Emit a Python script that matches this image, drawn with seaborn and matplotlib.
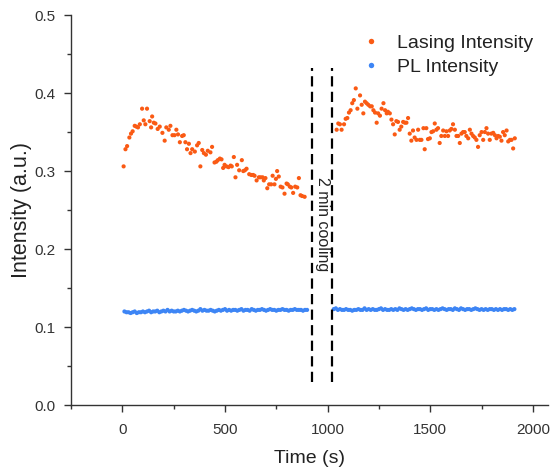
import matplotlib
matplotlib.use("Agg")
import matplotlib.pyplot as plt
import seaborn as sns
import pandas as pd

# ---- data ----
lasing_time_1 = [6, 15, 23, 34, 42, 50, 60, 68, 76, 85, 96, 104, 112, 120, 133, 140, 145, 153, 161, 172,
                 182, 195, 206, 214, 226, 234, 244, 254, 263, 271, 280, 291, 299, 307, 315, 324, 332, 340,
                 353, 364, 372, 380, 389, 397, 407, 416, 429, 437, 449, 458, 465, 475, 483, 491, 498, 507,
                 517, 527, 533, 543, 551, 559, 569, 582, 589, 597, 605, 618, 628, 637, 644, 654, 665, 673,
                 683, 689, 697, 706, 715, 725, 732, 741, 748, 754, 762, 771, 780, 790, 800, 806, 816, 823,
                 832, 842, 852, 860, 868, 876, 888]
lasing_int_1 = [0.306, 0.328, 0.332, 0.343, 0.348, 0.351, 0.358, 0.357, 0.356, 0.360, 0.380, 0.365, 0.360,
                0.380, 0.364, 0.356, 0.370, 0.362, 0.361, 0.354, 0.357, 0.349, 0.339, 0.356, 0.353, 0.358,
                0.346, 0.346, 0.353, 0.347, 0.337, 0.345, 0.346, 0.337, 0.328, 0.335, 0.323, 0.328, 0.325,
                0.333, 0.336, 0.306, 0.327, 0.323, 0.321, 0.326, 0.324, 0.331, 0.311, 0.312, 0.314, 0.316,
                0.315, 0.304, 0.308, 0.306, 0.305, 0.307, 0.306, 0.318, 0.292, 0.308, 0.301, 0.314, 0.300,
                0.301, 0.303, 0.296, 0.295, 0.295, 0.294, 0.288, 0.292, 0.292, 0.292, 0.288, 0.291, 0.278,
                0.283, 0.283, 0.294, 0.283, 0.290, 0.300, 0.293, 0.280, 0.279, 0.271, 0.284, 0.283, 0.280,
                0.279, 0.272, 0.280, 0.279, 0.291, 0.269, 0.268, 0.267]

lasing_time_2 = [1044, 1052, 1060, 1068, 1080, 1088, 1096, 1104, 1112, 1120, 1128, 1137, 1145, 1158, 1166,
                 1174, 1182, 1190, 1198, 1207, 1215, 1223, 1231, 1239, 1246, 1255, 1263, 1272, 1280, 1288,
                 1294, 1303, 1311, 1319, 1327, 1335, 1343, 1351, 1359, 1368, 1376, 1384, 1392, 1400, 1408,
                 1416, 1424, 1433, 1441, 1449, 1457, 1467, 1473, 1481, 1489, 1498, 1506, 1514, 1522, 1530,
                 1538, 1546, 1554, 1563, 1571, 1579, 1587, 1595, 1603, 1611, 1620, 1628, 1636, 1644, 1652,
                 1660, 1668, 1676, 1685, 1693, 1701, 1709, 1717, 1725, 1733, 1741, 1750, 1758, 1766, 1774,
                 1782, 1790, 1798, 1807, 1815, 1823, 1831, 1839, 1847, 1855, 1863, 1872, 1880, 1888, 1896,
                 1904, 1912]
lasing_int_2 = [0.353, 0.361, 0.360, 0.353, 0.360, 0.367, 0.368, 0.375, 0.378, 0.387, 0.391, 0.406, 0.380,
                0.397, 0.385, 0.374, 0.389, 0.387, 0.385, 0.383, 0.383, 0.378, 0.375, 0.362, 0.374, 0.371,
                0.380, 0.387, 0.378, 0.374, 0.376, 0.374, 0.366, 0.360, 0.347, 0.364, 0.363, 0.353, 0.357,
                0.363, 0.362, 0.362, 0.368, 0.348, 0.339, 0.352, 0.343, 0.340, 0.353, 0.340, 0.340, 0.355,
                0.328, 0.355, 0.341, 0.342, 0.350, 0.351, 0.361, 0.353, 0.355, 0.336, 0.345, 0.352, 0.345,
                0.351, 0.345, 0.352, 0.354, 0.360, 0.353, 0.345, 0.345, 0.336, 0.348, 0.350, 0.350, 0.345,
                0.342, 0.353, 0.348, 0.345, 0.343, 0.340, 0.331, 0.346, 0.350, 0.340, 0.350, 0.355, 0.348,
                0.340, 0.348, 0.349, 0.346, 0.342, 0.345, 0.344, 0.339, 0.350, 0.346, 0.352, 0.338, 0.340,
                0.340, 0.329, 0.342]

pl_time_1 = [10, 20, 30, 40, 50, 60, 70, 80, 90, 100, 110, 120, 130, 140, 150, 160, 170, 180, 190, 200,
             210, 220, 230, 240, 250, 260, 270, 280, 290, 300, 310, 320, 330, 340, 350, 360, 370, 380, 390, 400,
             410, 420, 430, 440, 450, 460, 470, 480, 490, 500, 510, 520, 530, 540, 550, 560, 570, 580, 590, 600,
             610, 620, 630, 640, 650, 660, 670, 680, 690, 700, 710, 720, 730, 740, 750, 760, 770, 780, 790, 800,
             810, 820, 830, 840, 850, 860, 870, 880, 890, 900]
pl_int_1 = [0.120, 0.119, 0.119, 0.118, 0.119, 0.120, 0.118, 0.119, 0.119, 0.120,
            0.119, 0.120, 0.121, 0.119, 0.120, 0.120, 0.121, 0.119, 0.120, 0.121,
            0.120, 0.122, 0.120, 0.121, 0.120, 0.120, 0.121, 0.120, 0.121, 0.122,
            0.121, 0.120, 0.121, 0.122, 0.121, 0.120, 0.121, 0.123, 0.121, 0.122,
            0.121, 0.121, 0.122, 0.121, 0.120, 0.121, 0.122, 0.121, 0.122, 0.123,
            0.121, 0.122, 0.121, 0.122, 0.122, 0.121, 0.122, 0.123, 0.121, 0.122,
            0.122, 0.121, 0.123, 0.122, 0.121, 0.122, 0.122, 0.123, 0.122, 0.121,
            0.122, 0.123, 0.122, 0.122, 0.121, 0.122, 0.122, 0.123, 0.122, 0.122,
            0.121, 0.122, 0.122, 0.123, 0.122, 0.122, 0.122, 0.121, 0.122, 0.122]

pl_time_2 = [1030, 1040, 1050, 1060, 1070, 1080, 1090, 1100, 1110, 1120, 1130, 1140, 1150, 1160, 1170,
             1180, 1190, 1200, 1210, 1220, 1230, 1240, 1250, 1260, 1270, 1280, 1290, 1300, 1310, 1320,
             1330, 1340, 1350, 1360, 1370, 1380, 1390, 1400, 1410, 1420, 1430, 1440, 1450, 1460, 1470,
             1480, 1490, 1500, 1510, 1520, 1530, 1540, 1550, 1560, 1570, 1580, 1590, 1600, 1610, 1620,
             1630, 1640, 1650, 1660, 1670, 1680, 1690, 1700, 1710, 1720, 1730, 1740, 1750, 1760, 1770,
             1780, 1790, 1800, 1810, 1820, 1830, 1840, 1850, 1860, 1870, 1880, 1890, 1900, 1910]
pl_int_2 = [0.123, 0.124, 0.122, 0.123, 0.122, 0.122, 0.123, 0.122, 0.122, 0.121,
            0.122, 0.122, 0.123, 0.122, 0.122, 0.124, 0.122, 0.123, 0.122, 0.123,
            0.122, 0.122, 0.123, 0.124, 0.122, 0.123, 0.122, 0.122, 0.123, 0.122,
            0.123, 0.122, 0.124, 0.123, 0.122, 0.123, 0.122, 0.123, 0.124, 0.123,
            0.122, 0.123, 0.123, 0.122, 0.123, 0.124, 0.122, 0.123, 0.123, 0.122,
            0.123, 0.122, 0.123, 0.124, 0.123, 0.122, 0.123, 0.123, 0.122, 0.124,
            0.123, 0.122, 0.124, 0.123, 0.122, 0.123, 0.123, 0.122, 0.123, 0.124,
            0.123, 0.122, 0.123, 0.122, 0.123, 0.122, 0.123, 0.123, 0.122, 0.123,
            0.122, 0.123, 0.122, 0.123, 0.123, 0.122, 0.123, 0.122, 0.123]

series_names = ["Lasing Intensity", "PL Intensity"]
cooling_times = [922, 1020]
cooling_label = "2 min cooling"

x_ticks = [0, 500, 1000, 1500, 2000]
y_ticks = [0.0, 0.1, 0.2, 0.3, 0.4, 0.5]

# ---- build table ----
df = pd.concat([
    pd.DataFrame({"Time": lasing_time_1 + lasing_time_2,
                  "Intensity": lasing_int_1 + lasing_int_2,
                  "Series": series_names[0]}),
    pd.DataFrame({"Time": pl_time_1 + pl_time_2,
                  "Intensity": pl_int_1 + pl_int_2,
                  "Series": series_names[1]}),
], ignore_index=True)

sns.set_style("ticks")
plt.rcParams["font.family"] = ["Liberation Sans", "DejaVu Sans"]
text_color = "#222222"
plt.rcParams["text.color"] = text_color
plt.rcParams["axes.labelcolor"] = text_color
plt.rcParams["xtick.color"] = "#333333"
plt.rcParams["ytick.color"] = "#333333"

fig = plt.figure(figsize=(5.51, 4.71), dpi=100)
ax = fig.add_axes([0.129, 0.140, 0.866, 0.828])

palette = {series_names[0]: "#FA5A14", series_names[1]: "#3D85F5"}
sns.scatterplot(data=df, x="Time", y="Intensity", hue="Series", palette=palette,
                s=9, linewidth=0, ax=ax, legend=True)

ymin_line, ymax_line = 0.03, 0.432
for t in cooling_times:
    ax.plot([t, t], [ymin_line, ymax_line], color="black", lw=1.6,
            linestyle=(0, (4.6, 2.4)))
ax.text(sum(cooling_times) / 2 + 3, 0.232, cooling_label, rotation=-90,
        ha="center", va="center", fontsize=11.5, color=text_color)

ax.set_xlim(-250, 2075)
ax.set_ylim(0, 0.5)
ax.set_xticks(x_ticks)
ax.set_yticks(y_ticks)
ax.set_xticks([-250, 250, 750, 1250, 1750], minor=True)
ax.set_yticks([0.05, 0.15, 0.25, 0.35, 0.45], minor=True)
ax.yaxis.set_major_formatter(matplotlib.ticker.FormatStrFormatter("%.1f"))
ax.tick_params(axis="both", which="major", direction="out", length=5, width=1,
               labelsize=11)
ax.tick_params(axis="x", which="major", pad=8)
ax.tick_params(axis="y", which="major", pad=6)
ax.tick_params(axis="both", which="minor", direction="out", length=3, width=1)
ax.set_xlabel("Time (s)", fontsize=14, labelpad=9)
ax.set_ylabel("Intensity (a.u.)", fontsize=15.5, labelpad=2)
for side in ["top", "right"]:
    ax.spines[side].set_visible(False)
for side in ["left", "bottom"]:
    ax.spines[side].set_color("#333333")
    ax.spines[side].set_linewidth(1)

leg = ax.legend(loc="upper right", bbox_to_anchor=(1.005, 0.995), frameon=False,
                fontsize=14, markerscale=1.3, handletextpad=0.35, labelspacing=0.3,
                title=None)

fig.savefig("out.png", dpi=100)
